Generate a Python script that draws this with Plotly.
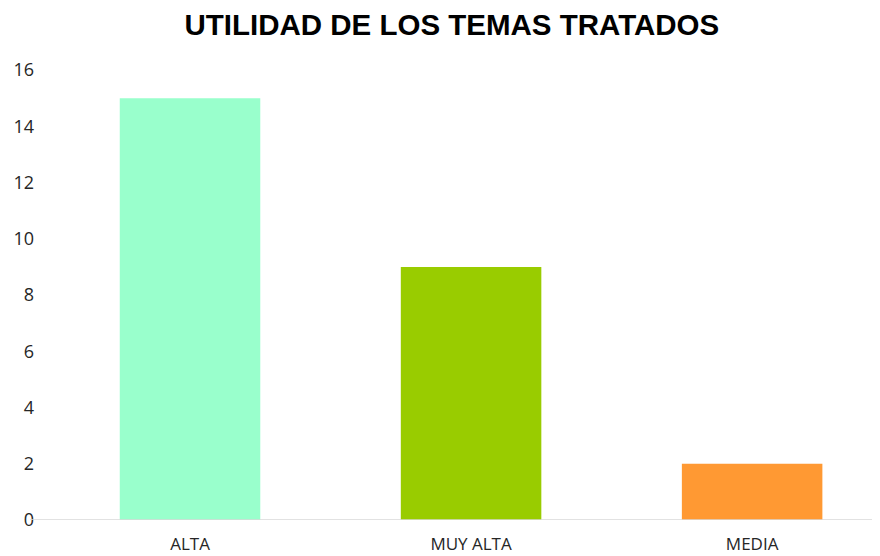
import plotly.graph_objects as go

categories = ["ALTA", "MUY ALTA", "MEDIA"]
values = [15, 9, 2]
colors = ["#99FFCC", "#99CC00", "#FF9933"]
y_ticks = [0, 2, 4, 6, 8, 10, 12, 14, 16]

fig = go.Figure(go.Bar(
    x=categories, y=values, marker=dict(color=colors, line=dict(width=0)),
    width=0.5,
))

fig.update_layout(
    width=872, height=548,
    margin=dict(l=37, r=0, t=62, b=36),
    paper_bgcolor="white", plot_bgcolor="white",
    title=dict(text="<b>UTILIDAD DE LOS TEMAS TRATADOS</b>", x=0.509, xanchor="center",
               y=1 - 17 / 548, yanchor="middle",
               font=dict(family="Liberation Sans", size=29.5, color="black")),
    showlegend=False,
    xaxis=dict(range=[-0.516, 2.455], showgrid=False, showline=False, zeroline=False,
               ticklabelstandoff=12,
               tickfont=dict(family="Open Sans", size=17, color="#262626")),
    yaxis=dict(range=[0, 16], tickvals=y_ticks, showgrid=False, showline=False, zeroline=False,
               ticklabelstandoff=10,
               tickfont=dict(family="Open Sans", size=18, color="#262626")),
    shapes=[dict(type="line", xref="paper", yref="y", x0=-15 / 835, x1=1, y0=0, y1=0,
                 line=dict(color="#d9d9d9", width=1.5))],
)

fig.write_html("out.html")
